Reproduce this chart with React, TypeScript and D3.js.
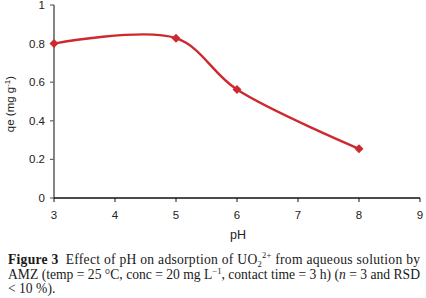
import React from "react";
import * as d3 from "d3";

const phValues = [3, 5, 6, 8];
const qeValues = [0.80, 0.828, 0.562, 0.255];
const xTicks = [3, 4, 5, 6, 7, 8, 9];
const yTicks = [0, 0.2, 0.4, 0.6, 0.8, 1];
const yTickLabels = ["0", "0.2", "0.4", "0.6", "0.8", "1"];

export default function App() {
  const W = 426, H = 298;
  const x = d3.scaleLinear().domain([3, 9]).range([54, 420]);
  const y = d3.scaleLinear().domain([0, 1]).range([198, 5]);
  const pts: [number, number][] = phValues.map((p, i) => [x(p), y(qeValues[i])]);
  const line = d3.line().curve(d3.curveCatmullRom.alpha(0.5))(pts) || "";
  const red = "#cc2a2e";
  const axisFont = "'Liberation Sans', Arial, sans-serif";
  const serif = "'Liberation Serif', 'Times New Roman', serif";
  return (
    <svg width={W} height={H} style={{ position: "absolute", left: 0, top: 0, background: "#fff" }}>
      <rect width={W} height={H} fill="#fff" />
      {/* y axis */}
      <line x1={54} x2={54} y1={5} y2={198} stroke="#666" strokeWidth={1.6} />
      {yTicks.map((t, i) => (
        <g key={"y" + i}>
          <line x1={50} x2={54} y1={y(t)} y2={y(t)} stroke="#666" strokeWidth={1.2} />
          <text x={45} y={y(t) + 4} textAnchor="end" fontFamily={axisFont} fontSize={11.5} fill="#222">{yTickLabels[i]}</text>
        </g>
      ))}
      {/* x axis */}
      <line x1={54} x2={420} y1={198} y2={198} stroke="#111" strokeWidth={1.3} />
      {xTicks.map((t) => (
        <g key={"x" + t}>
          <line x1={x(t)} x2={x(t)} y1={198} y2={202} stroke="#111" strokeWidth={1} />
          <text x={x(t)} y={219} textAnchor="middle" fontFamily={axisFont} fontSize={11.5} fill="#222">{t}</text>
        </g>
      ))}
      <text x={238} y={239} textAnchor="middle" fontFamily={axisFont} fontSize={12.5} fill="#222">pH</text>
      <text transform="translate(14,104) rotate(-90)" textAnchor="middle" fontFamily={axisFont} fontSize={11.5} fill="#222">
        qe (mg g<tspan dy={-4} fontSize={8}>-1</tspan><tspan dy={4}>)</tspan>
      </text>
      {/* series */}
      <path d={line} fill="none" stroke={red} strokeWidth={2.4} />
      {pts.map((p, i) => (
        <path key={"m" + i} d={`M${p[0]},${p[1] - 4.5}L${p[0] + 4.5},${p[1]}L${p[0]},${p[1] + 4.5}L${p[0] - 4.5},${p[1]}Z`} fill={red} />
      ))}
      {/* caption */}
      <text x={8} y={264} fontFamily={serif} fontSize={13.6} fill="#1a1a1a" textLength={412} lengthAdjust="spacing">
        <tspan fontWeight="bold">Figure 3</tspan>
        <tspan>{"\u2002Effect of pH on adsorption of UO"}</tspan>
        <tspan dy={3} fontSize={8.5}>2</tspan>
        <tspan dy={-9} fontSize={8.5}>2+</tspan>
        <tspan dy={6}>{" from aqueous solution by"}</tspan>
      </text>
      <text x={8} y={278.5} fontFamily={serif} fontSize={13.6} fill="#1a1a1a" textLength={412} lengthAdjust="spacing">
        <tspan>{"AMZ (temp = 25 \u00B0C, conc = 20 mg L"}</tspan>
        <tspan dy={-5} fontSize={8.5}>{"\u22121"}</tspan>
        <tspan dy={5}>{", contact time = 3 h) ("}</tspan>
        <tspan fontStyle="italic">n</tspan>
        <tspan>{" = 3 and RSD"}</tspan>
      </text>
      <text x={8} y={293} fontFamily={serif} fontSize={13.6} fill="#1a1a1a">{"< 10 %)."}</text>
    </svg>
  );
}
